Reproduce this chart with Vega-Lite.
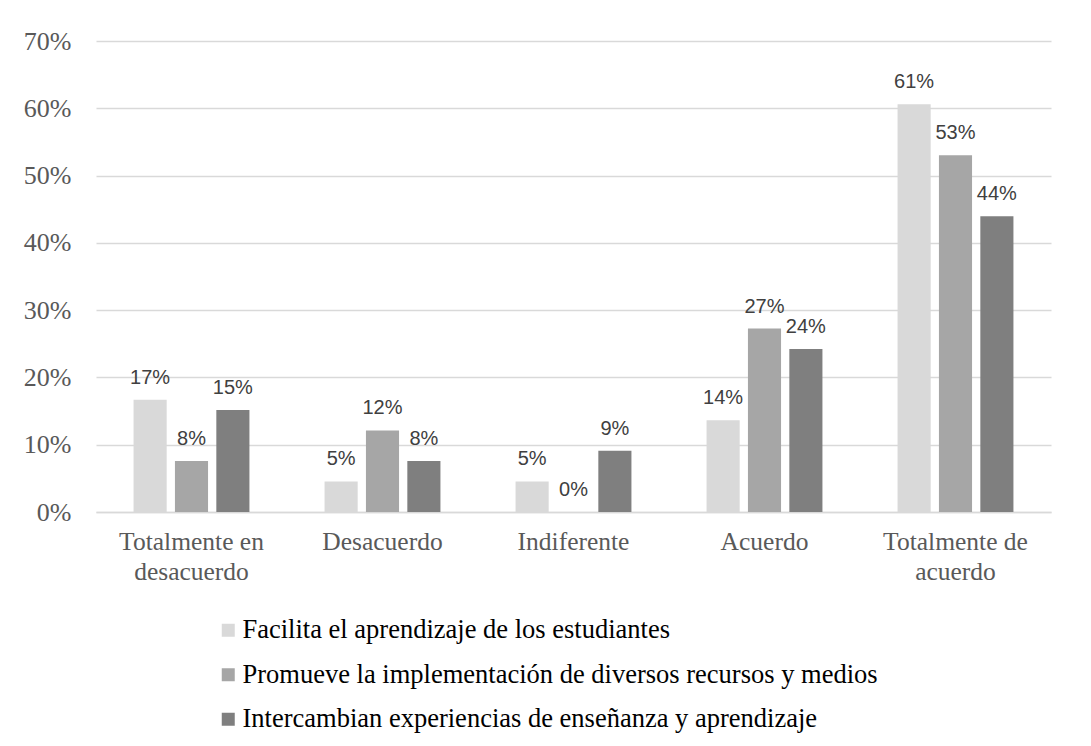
{
  "$schema": "https://vega.github.io/schema/vega-lite/v6.json",
  "width": 955,
  "height": 471,
  "autosize": {"type": "none"},
  "padding": {"left": 96, "top": 41, "right": 40, "bottom": 234},
  "background": "white",
  "config": {
    "view": {"stroke": null},
    "font": "Liberation Serif",
    "axis": {"labelFont": "Liberation Serif"},
    "legend": {"labelFont": "Liberation Serif"}
  },
  "data": {
    "values": [
      {"respuesta": "Totalmente en desacuerdo", "serie": "Facilita el aprendizaje de los estudiantes", "valor": 0.1667},
      {"respuesta": "Totalmente en desacuerdo", "serie": "Promueve la implementación de diversos recursos y medios", "valor": 0.0758},
      {"respuesta": "Totalmente en desacuerdo", "serie": "Intercambian experiencias de enseñanza y aprendizaje", "valor": 0.1515},
      {"respuesta": "Desacuerdo", "serie": "Facilita el aprendizaje de los estudiantes", "valor": 0.0455},
      {"respuesta": "Desacuerdo", "serie": "Promueve la implementación de diversos recursos y medios", "valor": 0.1212},
      {"respuesta": "Desacuerdo", "serie": "Intercambian experiencias de enseñanza y aprendizaje", "valor": 0.0758},
      {"respuesta": "Indiferente", "serie": "Facilita el aprendizaje de los estudiantes", "valor": 0.0455},
      {"respuesta": "Indiferente", "serie": "Promueve la implementación de diversos recursos y medios", "valor": 0},
      {"respuesta": "Indiferente", "serie": "Intercambian experiencias de enseñanza y aprendizaje", "valor": 0.0909},
      {"respuesta": "Acuerdo", "serie": "Facilita el aprendizaje de los estudiantes", "valor": 0.1364},
      {"respuesta": "Acuerdo", "serie": "Promueve la implementación de diversos recursos y medios", "valor": 0.2727},
      {"respuesta": "Acuerdo", "serie": "Intercambian experiencias de enseñanza y aprendizaje", "valor": 0.2424},
      {"respuesta": "Totalmente de acuerdo", "serie": "Facilita el aprendizaje de los estudiantes", "valor": 0.6061},
      {"respuesta": "Totalmente de acuerdo", "serie": "Promueve la implementación de diversos recursos y medios", "valor": 0.5303},
      {"respuesta": "Totalmente de acuerdo", "serie": "Intercambian experiencias de enseñanza y aprendizaje", "valor": 0.4394}
    ]
  },
  "encoding": {
    "x": {
      "field": "respuesta",
      "type": "nominal",
      "sort": ["Totalmente en desacuerdo", "Desacuerdo", "Indiferente", "Acuerdo", "Totalmente de acuerdo"],
      "scale": {"paddingInner": 0.35, "paddingOuter": 0.175},
      "axis": {
        "title": null,
        "labelAngle": 0,
        "labelFont": "Liberation Serif",
        "labelFontSize": 25.5,
        "labelColor": "#595959",
        "labelPadding": 17,
        "labelLineHeight": 30,
        "labelExpr": "datum.label == 'Totalmente en desacuerdo' ? ['Totalmente en', 'desacuerdo'] : datum.label == 'Totalmente de acuerdo' ? ['Totalmente de', 'acuerdo'] : datum.label",
        "ticks": false,
        "domainColor": "#d9d9d9",
        "domainWidth": 1.5
      }
    },
    "xOffset": {
      "field": "serie",
      "sort": [
        "Facilita el aprendizaje de los estudiantes",
        "Promueve la implementación de diversos recursos y medios",
        "Intercambian experiencias de enseñanza y aprendizaje"
      ],
      "scale": {"paddingInner": 0.2, "paddingOuter": 0.1}
    },
    "y": {
      "field": "valor",
      "type": "quantitative",
      "scale": {"domain": [0, 0.7]},
      "axis": {
        "title": null,
        "format": ".0%",
        "values": [0, 0.1, 0.2, 0.3, 0.4, 0.5, 0.6, 0.7],
        "labelFont": "Liberation Serif",
        "labelFontSize": 26,
        "labelColor": "#595959",
        "labelPadding": 25,
        "ticks": false,
        "domain": false,
        "gridColor": "#d9d9d9",
        "gridWidth": 1.4
      }
    }
  },
  "layer": [
    {
      "mark": {"type": "bar"},
      "encoding": {
        "color": {
          "field": "serie",
          "type": "nominal",
          "scale": {
            "domain": [
              "Facilita el aprendizaje de los estudiantes",
              "Promueve la implementación de diversos recursos y medios",
              "Intercambian experiencias de enseñanza y aprendizaje"
            ],
            "range": ["#d9d9d9", "#a6a6a6", "#7f7f7f"]
          },
          "legend": {
            "title": null,
            "orient": "none",
            "legendX": 119,
            "legendY": 576,
            "direction": "vertical",
            "symbolType": "square",
            "symbolSize": 169,
            "symbolStrokeWidth": 0,
            "labelFont": "Liberation Serif",
            "labelFontSize": 26.5,
            "labelColor": "#000000",
            "labelOffset": 1,
            "labelLimit": 900,
            "rowPadding": 17.5
          }
        }
      }
    },
    {
      "mark": {
        "type": "text",
        "dy": -16,
        "baseline": "alphabetic",
        "font": "Liberation Sans",
        "fontSize": 20,
        "color": "#404040"
      },
      "encoding": {
        "text": {"field": "valor", "type": "quantitative", "format": ".0%"}
      }
    }
  ]
}
